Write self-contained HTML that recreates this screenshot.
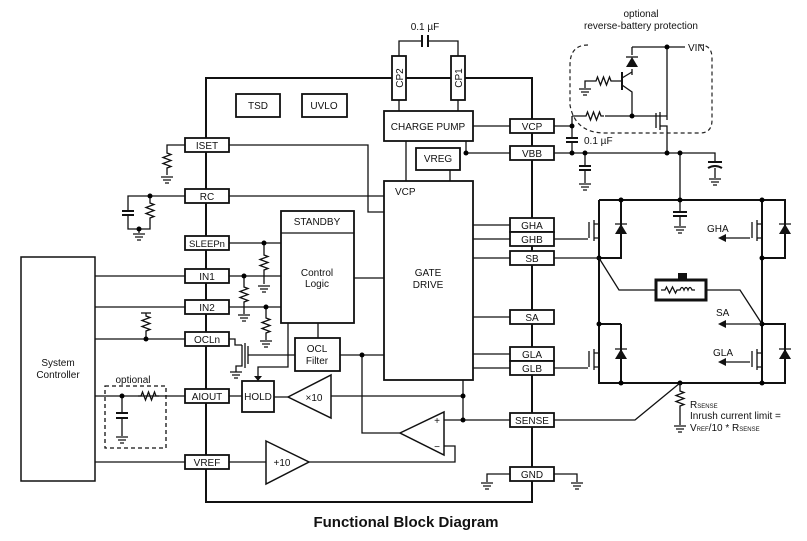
<!DOCTYPE html>
<html><head><meta charset="utf-8"><style>
html,body{margin:0;padding:0;background:#fff;}
svg{display:block;font-family:"Liberation Sans",sans-serif;}
.w{stroke:#111;stroke-width:1.3;fill:none;}
.t{stroke:#111;stroke-width:2;fill:none;}
.b{stroke:#111;stroke-width:1.8;fill:#fff;}
text{font-size:10px;fill:#111;}
</style></head><body>
<svg width="807" height="541" viewBox="0 0 807 541" xmlns="http://www.w3.org/2000/svg">
<defs>
<g id="gnd"><path class="w" d="M-6 0h12M-4 3h8M-2 6h4"/></g>
<g id="rv"><path class="w" d="M0 0l0 3l4 1.5l-8 3l8 3l-8 3l8 3l-4 1.5l0 3"/></g>
<g id="rh"><path class="w" d="M0 0l3 0l1.5 -4l3 8l3 -8l3 8l3 -8l1.5 4l3 0"/></g>
<g id="capv"><path class="t" d="M-6 -2h12M-6 2h12"/></g>
</defs>

<!-- chip outline -->
<rect x="206" y="78" width="326" height="424" class="t"/>

<!-- left pins -->
<g>
<rect x="185" y="138" width="44" height="14" class="b"/><text x="207" y="149" text-anchor="middle">ISET</text>
<rect x="185" y="189" width="44" height="14" class="b"/><text x="207" y="200" text-anchor="middle">RC</text>
<rect x="185" y="236" width="44" height="14" class="b"/><text x="207" y="247" text-anchor="middle" style="font-size:9.5px">SLEEPn</text>
<rect x="185" y="269" width="44" height="14" class="b"/><text x="207" y="280" text-anchor="middle">IN1</text>
<rect x="185" y="300" width="44" height="14" class="b"/><text x="207" y="311" text-anchor="middle">IN2</text>
<rect x="185" y="332" width="44" height="14" class="b"/><text x="207" y="343" text-anchor="middle">OCLn</text>
<rect x="185" y="389" width="44" height="14" class="b"/><text x="207" y="400" text-anchor="middle">AIOUT</text>
<rect x="185" y="455" width="44" height="14" class="b"/><text x="207" y="466" text-anchor="middle">VREF</text>
</g>
<!-- right pins -->
<g>
<rect x="510" y="119" width="44" height="14" class="b"/><text x="532" y="130" text-anchor="middle">VCP</text>
<rect x="510" y="146" width="44" height="14" class="b"/><text x="532" y="157" text-anchor="middle">VBB</text>
<rect x="510" y="218" width="44" height="14" class="b"/><text x="532" y="229" text-anchor="middle">GHA</text>
<rect x="510" y="232" width="44" height="14" class="b"/><text x="532" y="243" text-anchor="middle">GHB</text>
<rect x="510" y="251" width="44" height="14" class="b"/><text x="532" y="262" text-anchor="middle">SB</text>
<rect x="510" y="310" width="44" height="14" class="b"/><text x="532" y="321" text-anchor="middle">SA</text>
<rect x="510" y="347" width="44" height="14" class="b"/><text x="532" y="358" text-anchor="middle">GLA</text>
<rect x="510" y="361" width="44" height="14" class="b"/><text x="532" y="372" text-anchor="middle">GLB</text>
<rect x="510" y="413" width="44" height="14" class="b"/><text x="532" y="424" text-anchor="middle">SENSE</text>
<rect x="510" y="467" width="44" height="14" class="b"/><text x="532" y="478" text-anchor="middle">GND</text>
</g>

<!-- CP pins & cap -->
<path class="w" d="M399 56V41H422M428 41H458V56M399 100V111M458 100V111"/>
<path class="t" d="M422 35V47M428 35V47"/>
<text x="425" y="30" text-anchor="middle">0.1 µF</text>
<rect x="392" y="56" width="14" height="44" class="b"/><text transform="translate(403,78) rotate(-90)" text-anchor="middle">CP2</text>
<rect x="451" y="56" width="14" height="44" class="b"/><text transform="translate(462,78) rotate(-90)" text-anchor="middle">CP1</text>

<rect x="236" y="94" width="44" height="23" class="b"/><text x="258" y="109" text-anchor="middle">TSD</text>
<rect x="302" y="94" width="45" height="23" class="b"/><text x="324" y="109" text-anchor="middle">UVLO</text>
<rect x="384" y="111" width="89" height="30" class="b"/><text x="428" y="130" text-anchor="middle">CHARGE PUMP</text>
<rect x="416" y="148" width="44" height="22" class="b"/><text x="438" y="162" text-anchor="middle">VREG</text>
<path class="w" d="M473 126H510M466 141V153H510M406 141V181M450 170V181"/>
<circle cx="466" cy="153" r="2.5"/>
<rect x="384" y="181" width="89" height="199" class="b"/>
<text x="395" y="195">VCP</text>
<text x="428" y="276" text-anchor="middle">GATE</text><text x="428" y="288" text-anchor="middle">DRIVE</text>
<path class="w" d="M473 225H510M473 239H510M473 258H510M473 317H510M473 354H510M473 368H510"/>

<!-- ISET -->
<path class="w" d="M185 145H167V150M167 171V175M229 145H368V212H384"/>
<use href="#rv" x="167" y="150"/><use href="#gnd" x="167" y="177"/>
<!-- RC -->
<path class="w" d="M229 196H384M185 196H128V211M128 215V229H150V221M150 196V200M139 229V233"/>
<path class="t" d="M122 211h12M122 215h12"/>
<use href="#rv" x="150" y="200"/><use href="#gnd" x="139" y="234"/>
<circle cx="150" cy="196" r="2.5"/><circle cx="139" cy="229" r="2.5"/>

<!-- Standby/Control -->
<rect x="281" y="211" width="73" height="112" class="b"/>
<path class="w" d="M281 233H354"/>
<text x="317" y="225" text-anchor="middle">STANDBY</text>
<text x="317" y="276" text-anchor="middle">Control</text><text x="317" y="287" text-anchor="middle">Logic</text>
<path class="w" d="M229 243H281M264 243V252M264 273V284M229 276H281M244 276V284M244 305V314M229 307H281M266 307V315M266 336V340M354 278H384"/>
<use href="#rv" x="264" y="252"/><use href="#gnd" x="264" y="286"/>
<use href="#rv" x="244" y="284"/><use href="#gnd" x="244" y="315"/>
<use href="#rv" x="266" y="315"/><use href="#gnd" x="266" y="341"/>
<circle cx="264" cy="243" r="2.5"/><circle cx="244" cy="276" r="2.5"/><circle cx="266" cy="307" r="2.5"/>

<!-- System controller -->
<rect x="21" y="257" width="74" height="224" class="b" style="stroke-width:1.5"/>
<text x="58" y="366" text-anchor="middle">System</text><text x="58" y="378" text-anchor="middle">Controller</text>
<path class="w" d="M95 276H185M95 307H185M95 339H185M146 339V334M146 313V313M95 396H185M95 462H185"/>
<use href="#rv" x="146" y="313"/><path class="w" d="M141 313h10"/>
<circle cx="146" cy="339" r="2.5"/>

<!-- OCLn FET -->
<path class="w" d="M229 339H235V345H242M242 345V366H236V372M245 343V368M248 346V364M248 355H295"/>
<use href="#gnd" x="236" y="372"/>
<rect x="295" y="338" width="45" height="33" class="b"/>
<text x="317" y="352" text-anchor="middle">OCL</text><text x="317" y="364" text-anchor="middle">Filter</text>
<path class="w" d="M318 323V338M288 323V367H258V378M340 355H384M362 355V433H400"/>
<path d="M254 376h8l-4 5z" fill="#111"/>
<circle cx="362" cy="355" r="2.5"/>

<!-- optional RC -->
<rect x="105" y="386" width="61" height="62" fill="none" stroke="#111" stroke-width="1.3" stroke-dasharray="4,3"/>
<text x="133" y="383" text-anchor="middle">optional</text>
<path class="w" d="M122 396V413M122 418V436"/>
<path class="t" d="M116 413h12M116 418h12"/>
<use href="#rh" x="138" y="396"/><use href="#gnd" x="122" y="437"/>
<circle cx="122" cy="396" r="2.5"/>

<!-- HOLD and amps -->
<path class="w" d="M229 396H242M274 397H288M331 396H463M463 380V420M444 420H510M444 446H455V462H309M229 462H266"/>
<rect x="242" y="381" width="32" height="31" class="b"/><text x="258" y="400" text-anchor="middle">HOLD</text>
<path class="b" d="M288 397L331 375V418Z" style="stroke-width:1.5"/><text x="314" y="401" text-anchor="middle">×10</text>
<path class="b" d="M400 433L444 412V455Z" style="stroke-width:1.5"/><text x="437" y="424" text-anchor="middle">+</text><text x="437" y="450" text-anchor="middle">−</text>
<path class="b" d="M266 441L309 462L266 484Z" style="stroke-width:1.5"/><text x="282" y="466" text-anchor="middle">+10</text>
<circle cx="463" cy="396" r="2.5"/><circle cx="463" cy="420" r="2.5"/>

<!-- GND -->
<path class="w" d="M510 474H487V482M554 474H577V482"/>
<use href="#gnd" x="487" y="483"/><use href="#gnd" x="577" y="483"/>

<!-- reverse battery -->
<path d="M588 45 Q570 45 570 65 V105 Q575 133 605 133 H700 Q712 133 712 120 V58 Q712 45 700 45" fill="none" stroke="#222" stroke-width="1.2" stroke-dasharray="4,3"/>
<text x="641" y="17" text-anchor="middle">optional</text>
<text x="641" y="29" text-anchor="middle">reverse-battery protection</text>
<path class="w" d="M554 126H572M572 116V138M572 142V153M572 116H583M605 116H660M632 116V93M632 47H685M667 47V120M632 47V55M632 69V75M554 153H715V161M585 153V166M585 170V183M680 153V200"/>
<use href="#rh" x="583" y="116"/>
<path class="t" d="M566 138h12M566 142h12M579 166h12M579 170h12"/>
<text x="584" y="144">0.1 µF</text>
<use href="#gnd" x="585" y="184"/>
<path class="t" d="M708 162h14M708 168q7 -4 14 0"/>
<path class="w" d="M715 168V178"/><use href="#gnd" x="715" y="179"/>
<path d="M626 67h12l-6 -10z" fill="#111"/><path class="w" d="M626 57h12"/>
<path class="t" d="M622 72V90"/>
<path class="w" d="M622 78L632 72M622 85L632 92V93M622 81H614"/>
<use href="#rh" x="593" y="81"/>
<path class="w" d="M593 81H585V88"/><use href="#gnd" x="585" y="89"/>
<!-- pmos -->
<path class="w" d="M656 113V128M660 112V130M660 116H667M660 126H667V153"/>
<circle cx="572" cy="126" r="2.5"/><circle cx="572" cy="153" r="2.5"/><circle cx="585" cy="153" r="2.5"/>
<circle cx="632" cy="116" r="2.5"/><circle cx="667" cy="47" r="2.5"/><circle cx="667" cy="153" r="2.5"/><circle cx="680" cy="153" r="2.5"/>
<text x="688" y="51">VIN</text>

<!-- H bridge -->
<path class="t" d="M599 200H785V258H762M599 200V383H785V324H762M762 200V383M621 200V258H599M621 324H599M621 324V383"/>
<path class="w" d="M680 200V212M680 216V226"/>
<path class="t" d="M673 212h14M673 216h14"/>
<use href="#gnd" x="680" y="227"/>
<circle cx="621" cy="200" r="2.5"/><circle cx="680" cy="200" r="2.5"/><circle cx="762" cy="200" r="2.5"/>
<circle cx="599" cy="258" r="2.5"/><circle cx="762" cy="258" r="2.5"/>
<circle cx="599" cy="324" r="2.5"/><circle cx="762" cy="324" r="2.5"/>
<circle cx="621" cy="383" r="2.5"/><circle cx="680" cy="383" r="2.5"/><circle cx="762" cy="383" r="2.5"/>
<!-- diodes -->
<g fill="#111">
<path d="M615 234h12l-6 -10z"/><path d="M779 234h12l-6 -10z"/>
<path d="M615 359h12l-6 -10z"/><path d="M779 359h12l-6 -10z"/>
</g>
<path class="w" d="M615 224h12M779 224h12M615 349h12M779 349h12"/>
<!-- fets -->
<path class="w" d="M554 239H588M589 222V238M594 220V241M594 224H599M594 238H599M554 368H588M589 351V367M594 349V370M594 353H599M594 367H599"/>
<path class="w" d="M751 238H751M752 222V238M757 220V241M757 224H762M757 238H762M752 351V367M757 349V370M757 353H762M757 367H762"/>
<!-- arrows -->
<path class="w" d="M750 238H724M762 324H724M750 362H724"/>
<path d="M718 238l8 -4v8zM718 324l8 -4v8zM718 362l8 -4v8z" fill="#111"/>
<text x="707" y="232">GHA</text><text x="716" y="316">SA</text><text x="713" y="356">GLA</text>
<!-- motor -->
<path class="w" d="M554 258H599L619 290H656M706 290H740L762 324"/>
<rect x="656" y="280" width="50" height="20" fill="#fff" stroke="#111" stroke-width="3"/>
<rect x="678" y="273" width="9" height="6" fill="#111"/>
<path class="w" d="M661 290h4l1.5 -3l3 6l3 -6l3 6l1.5 -3h3q2 -5 4 0q2 -5 4 0q2 -5 4 0h3"/>
<!-- sense -->
<path class="w" d="M554 420H635L680 383M680 383V388M680 409V425"/>
<use href="#rv" x="680" y="388"/><use href="#gnd" x="680" y="426"/>
<text x="690" y="408">R<tspan style="font-size:6px">SENSE</tspan></text>
<text x="690" y="419">Inrush current limit =</text>
<text x="690" y="431">V<tspan style="font-size:6px">REF</tspan>/10 * R<tspan style="font-size:6px">SENSE</tspan></text>

<text x="406" y="527" text-anchor="middle" style="font-size:15px;font-weight:bold">Functional Block Diagram</text>
</svg>
</body></html>
